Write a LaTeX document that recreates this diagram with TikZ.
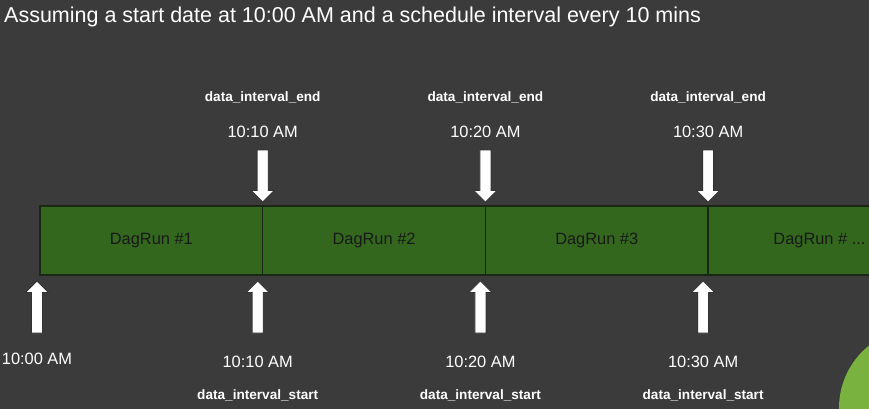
\documentclass[tikz,border=0pt]{standalone}
\usepackage{fontspec}
\setmainfont{Liberation Sans}
\usetikzlibrary{positioning}
\definecolor{slateBg}{HTML}{3B3B3B}
\definecolor{runGreen}{HTML}{33671E}
\definecolor{runEdge}{HTML}{1B2715}
\definecolor{leafGreen}{HTML}{7AB240}
\tikzset{
  run/.style={draw=runEdge,line width=1.4pt,fill=runGreen,minimum width=\bw pt,minimum height=\bh pt,
    inner sep=0pt,outer sep=0pt,font=\fontsize{16.4}{18}\selectfont,text=black!90},
  timelbl/.style={text=white,font=\fontsize{16.4}{18}\selectfont,anchor=base,inner sep=0pt},
  fieldlbl/.style={text=white,font=\fontsize{13.6}{16}\selectfont\bfseries,anchor=base,inner sep=0pt},
  blockarrow/.style={draw=black!80,fill=white,line width=0.8pt},
  pics/downarr/.style={code={
    \draw[blockarrow] (0pt,0pt) -- (-11.5pt,11.5pt) -- (-5.5pt,11.5pt) -- (-5.5pt,52pt)
      -- (5.5pt,52pt) -- (5.5pt,11.5pt) -- (11.5pt,11.5pt) -- cycle;
  }},
}

\begin{document}
\begin{tikzpicture}[x=1pt,y=-1pt]
  \def\bw{222.7}
  \def\bh{69}
  \useasboundingbox (0,0) rectangle (869,409);
  \fill[slateBg] (0,0) rectangle (869,409);
  \clip (0,0) rectangle (869,409);
  \fill[leafGreen] (919,408) circle[radius=80];
  \node[text=white,font=\fontsize{21.5}{25}\selectfont,anchor=base west,inner sep=0pt] (title) at (4,23)
    {Assuming a start date at 10:00 AM and a schedule interval every 10 mins};
  \node[run,anchor=north west] (run1) at (40,206) {DagRun \#1};
  \node[run,right=0pt of run1] (run2) {DagRun \#2};
  \node[run,right=0pt of run2] (run3) {DagRun \#3};
  \node[run,right=0pt of run3] (run4) {DagRun \# ...};
  \foreach \r/\t in {1/10:10,2/10:20,3/10:30}{
    \pic at ([yshift=4pt]run\r.north east) {downarr};
    \node[timelbl] (endtime\r) at ([yshift=69pt]run\r.north east) {\t\ AM};
    \node[fieldlbl] (endlbl\r) at ([yshift=104pt]run\r.north east) {data\_interval\_end};
  }
  \pic[rotate=180] at ([shift={(-3pt,-6pt)}]run1.south west) {downarr};
  \node[timelbl] (starttime0) at ([shift={(-3pt,-89pt)}]run1.south west) {10:00 AM};
  \foreach \r/\t in {1/10:10,2/10:20,3/10:30}{
    \pic[rotate=180] at ([shift={(-5pt,-6pt)}]run\r.south east) {downarr};
    \node[timelbl] (starttime\r) at ([shift={(-5pt,-92pt)}]run\r.south east) {\t\ AM};
    \node[fieldlbl] (startlbl\r) at ([shift={(-5pt,-124pt)}]run\r.south east) {data\_interval\_start};
  }
\end{tikzpicture}
\end{document}
